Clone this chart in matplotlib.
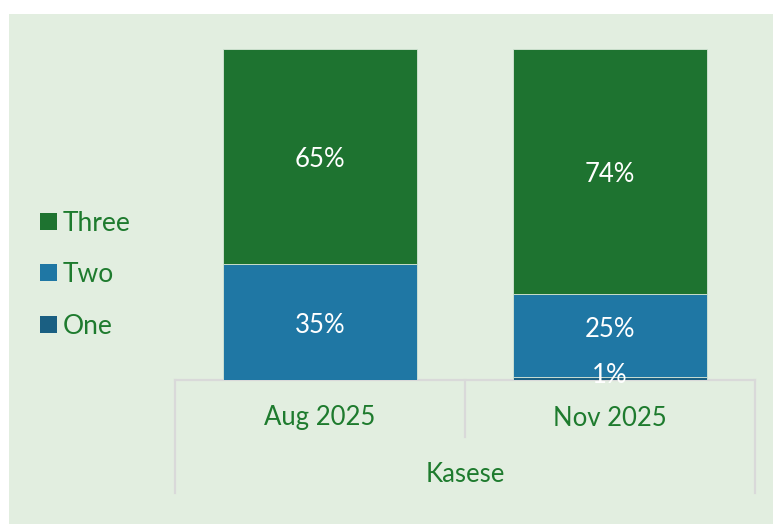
import matplotlib
matplotlib.use("Agg")
import matplotlib.pyplot as plt
from matplotlib.patches import Rectangle
from matplotlib.lines import Line2D

categories = ["Aug 2025", "Nov 2025"]
group_label = "Kasese"
series_names = ["One", "Two", "Three"]
one = [0, 1]
two = [35, 25]
three = [65, 74]
colors = {"One": "#1A5F82", "Two": "#1F77A4", "Three": "#1E7330"}
text_green = "#1E7B2E"
bg = "#E2EEE0"

plt.rcParams['font.family'] = ['Lato', 'DejaVu Sans']

W, H = 773, 524
fig = plt.figure(figsize=(W / 100, H / 100), dpi=100)
fig.patch.set_facecolor("white")
fig.patches.append(Rectangle((9 / W, 0), (W - 9) / W, (H - 14) / H,
                             transform=fig.transFigure, facecolor=bg,
                             edgecolor="none", zorder=-10))

# axes: x 175..755, y 49..380 (pixel from top)
ax_l, ax_r, ax_t, ax_b = 175, 755, 49, 380
ax = fig.add_axes([ax_l / W, 1 - ax_b / H, (ax_r - ax_l) / W, (ax_b - ax_t) / H])
ax.set_facecolor("none")
ax.set_zorder(2)
x = list(range(len(categories)))
width = 0.666
series = {"One": one, "Two": two, "Three": three}
bottom = [0] * len(categories)
prev = [0] * len(categories)
for name in series_names:
    vals = series[name]
    ax.bar(x, vals, width, bottom=bottom, color=colors[name],
           edgecolor="#D6E6D6", linewidth=0.6, label=name, zorder=2)
    for i, (xi, v, b) in enumerate(zip(x, vals, bottom)):
        if v > 0:
            if v > 3:
                yl = b + v / 2 - 0.9
                if 0 < prev[i] <= 3:
                    yl += 2.7
            else:
                yl = b + 1.4
            ax.text(xi, yl, f"{v}%", ha="center",
                    va="center", color="white", fontsize=18.5, zorder=3)
    prev = list(vals)
    bottom = [b + v for b, v in zip(bottom, vals)]
ax.set_xlim(-0.5, 1.5)
ax.set_ylim(0, 100)
ax.axis("off")


def fx(px):
    return px / W


def fy(py):
    return 1 - py / H


line_c = "#D9D9D9"
lw = 1.6
fig.add_artist(Line2D([fx(175), fx(755)], [fy(380), fy(380)], color=line_c, lw=lw, zorder=1))
fig.add_artist(Line2D([fx(175), fx(175)], [fy(380), fy(493)], color=line_c, lw=lw))
fig.add_artist(Line2D([fx(755), fx(755)], [fy(380), fy(493)], color=line_c, lw=lw))
fig.add_artist(Line2D([fx(465), fx(465)], [fy(380), fy(437)], color=line_c, lw=lw))

for xi, cat in zip(x, categories):
    px = ax_l + (xi + 0.5) / 2 * (ax_r - ax_l)
    fig.text(fx(px), fy(418), cat, ha="center", va="center", color=text_green, fontsize=18.5)
fig.text(fx(465), fy(475), group_label, ha="center", va="center", color=text_green, fontsize=18.5)

# legend
leg_items = [("Three", 221), ("Two", 272), ("One", 324)]
for name, py in leg_items:
    fig.patches.append(Rectangle((fx(40), fy(py + 8.5)), 17 / W, 17 / H,
                                 transform=fig.transFigure, facecolor=colors[name],
                                 edgecolor="none"))
    fig.text(fx(63), fy(py + 2.5), name, ha="left", va="center", color=text_green, fontsize=19)

fig.savefig("out.png", dpi=100, facecolor=fig.get_facecolor())
